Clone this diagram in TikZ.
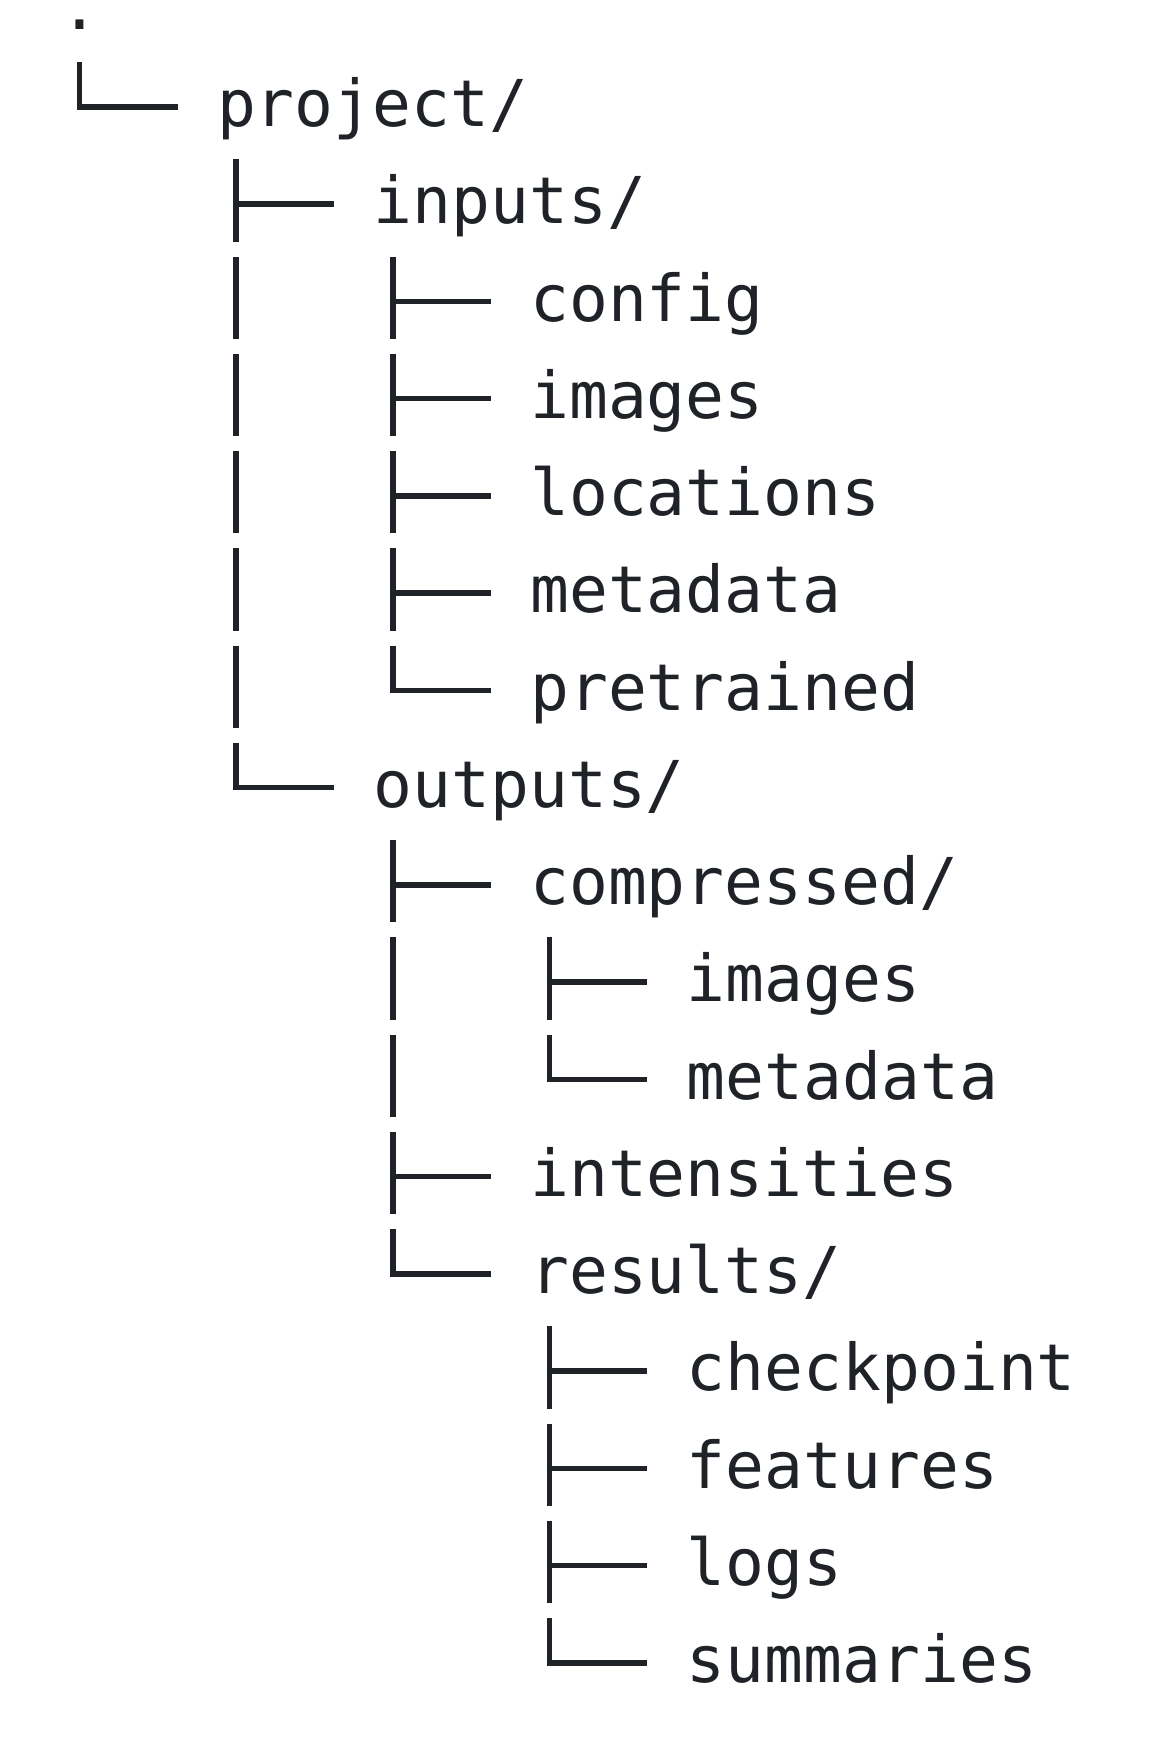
\documentclass[tikz,border=0pt]{standalone}
\usepackage{fontspec}
\newfontfamily\treefont{DejaVu Sans Mono}
\usetikzlibrary{calc}
\definecolor{ink}{RGB}{31,35,40}
\begin{document}
\begin{tikzpicture}[x=0.5pt,y=-0.5pt,
  entry/.style={font={\treefont\fontsize{32.3}{40}\selectfont}, text=ink,
                inner sep=0pt, anchor=base west},
  branch/.style={draw=ink, line width=2.8pt, line cap=butt}]
  % cell width, row pitch and the left edge / first baseline (in px)
  \def\cw{39.15}
  \def\pitch{97.24}
  \def\leftx{60.1}
  \def\basey{29.5}
  \fill[white] (0,0) rectangle (1168,1742);
  \useasboundingbox (0,0) rectangle (1168,1742);

  % root
  \node[entry] (n0) at (\leftx,\basey) {.};

  % row / depth / lower end of the branch stroke / extra bar column / label
  \foreach \row/\dep/\low/\vb/\lbl in {
      1/1/-17/-1/{project/},
      2/2/17.7/-1/{inputs/},
      3/3/17.7/4/config,
      4/3/17.7/4/images,
      5/3/17.7/4/locations,
      6/3/17.7/4/metadata,
      7/3/-17/4/pretrained,
      8/2/-17/-1/{outputs/},
      9/3/17.7/-1/{compressed/},
      10/4/17.7/8/images,
      11/4/-17/8/metadata,
      12/3/17.7/-1/intensities,
      13/3/-17/-1/{results/},
      14/4/17.7/-1/checkpoint,
      15/4/17.7/-1/features,
      16/4/17.7/-1/logs,
      17/4/-17/-1/summaries}{
    \pgfmathsetmacro\by{\basey+\row*\pitch}
    \pgfmathsetmacro\bx{\leftx+4*\dep*\cw}
    \node[entry] (n\row) at (\bx,\by) {\lbl};
    % vertical stroke of the branch glyph
    \draw[branch] ($(n\row.base west)+(-3.5*\cw,-64.6)$)
               -- ($(n\row.base west)+(-3.5*\cw,\low)$);
    % horizontal stroke towards the label
    \draw[branch] ($(n\row.base west)+(-3.5*\cw-2.8,-19.8)$)
               -- ($(n\row.base west)+(-\cw,-19.8)$);
    % continuation bar of an open ancestor
    \ifnum\vb<0\relax\else
      \draw[branch] ($(n\row.base west)+({(\vb+0.5-4*\dep)*\cw},-64.6)$)
                 -- ($(n\row.base west)+({(\vb+0.5-4*\dep)*\cw},17.7)$);
    \fi
  }
\end{tikzpicture}
\end{document}
